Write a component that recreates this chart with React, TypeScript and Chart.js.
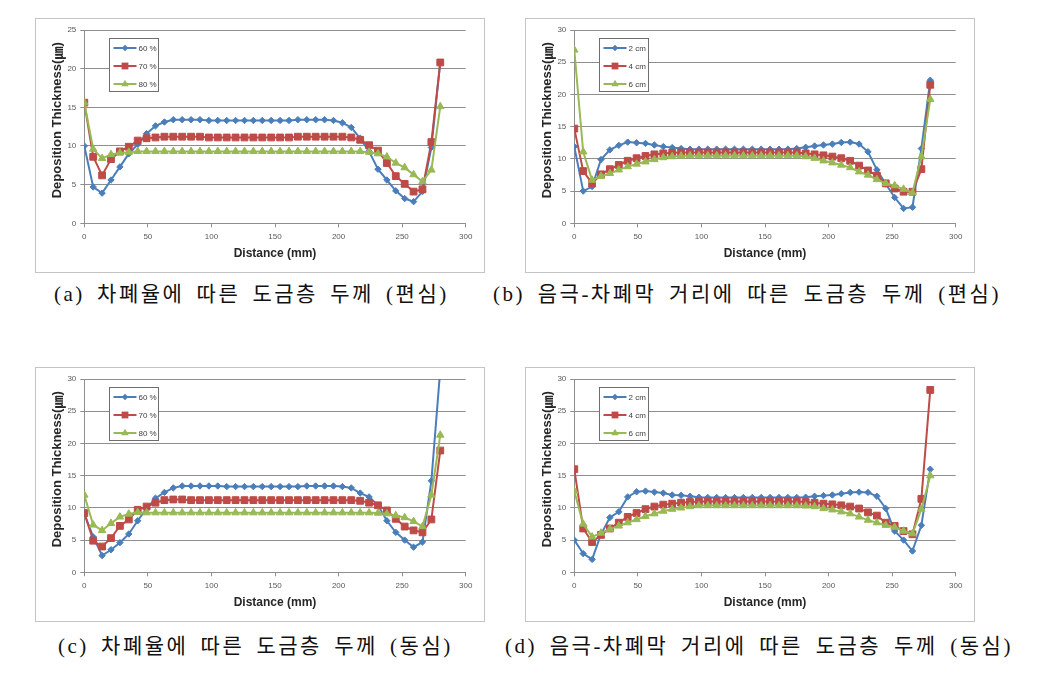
import React, { useEffect, useRef } from 'react';
import { Chart, registerables } from 'chart.js';

Chart.register(...registerables);

// ---------------- data ----------------
const distanceMm = [
  0, 7, 14, 21, 28, 35, 42, 49, 56, 63,
  70, 77, 84, 91, 98, 105, 112, 119, 126, 133,
  140, 147, 154, 161, 168, 175, 182, 189, 196, 203,
  210, 217, 224, 231, 238, 245, 252, 259, 266, 273, 280,
];

const xTickValues = [0, 50, 100, 150, 200, 250, 300];

const ratioLabels = ['60 %', '70 %', '80 %'];
const gapLabels = ['2 cm', '4 cm', '6 cm'];

// (a) shielding ratio, eccentric
const a60 = [
  10.0, 4.7, 3.9, 5.6, 7.3, 9.0, 10.2, 11.6, 12.6, 13.1,
  13.4, 13.4, 13.4, 13.4, 13.3, 13.3, 13.3, 13.3, 13.3, 13.3,
  13.3, 13.3, 13.3, 13.3, 13.4, 13.4, 13.4, 13.4, 13.3, 13.0,
  12.4, 11.0, 9.3, 7.0, 5.6, 4.2, 3.2, 2.8, 4.1, 9.8, 20.8,
];
const a70 = [
  15.6, 8.6, 6.2, 8.3, 9.3, 9.9, 10.7, 11.0, 11.1, 11.2,
  11.2, 11.2, 11.2, 11.2, 11.1, 11.1, 11.1, 11.1, 11.1, 11.1,
  11.1, 11.1, 11.1, 11.1, 11.2, 11.2, 11.2, 11.2, 11.2, 11.2,
  11.1, 10.8, 10.1, 9.4, 7.8, 6.1, 5.1, 4.1, 4.4, 10.5, 20.8,
];
const a80 = [
  15.6, 9.6, 8.4, 8.9, 9.1, 9.2, 9.3, 9.3, 9.3, 9.3,
  9.3, 9.3, 9.3, 9.3, 9.3, 9.3, 9.3, 9.3, 9.3, 9.3,
  9.3, 9.3, 9.3, 9.3, 9.3, 9.3, 9.3, 9.3, 9.3, 9.3,
  9.3, 9.3, 9.2, 9.0, 8.6, 7.8, 7.2, 6.3, 5.4, 6.9, 15.1,
];

// (b) cathode-shield distance, eccentric
const b2 = [
  11.9, 5.0, 5.7, 9.9, 11.4, 12.1, 12.6, 12.5, 12.4, 12.15,
  11.9, 11.75, 11.6, 11.5, 11.5, 11.5, 11.5, 11.5, 11.5, 11.5,
  11.5, 11.5, 11.5, 11.5, 11.5, 11.6, 11.8, 12.0, 12.15, 12.3,
  12.55, 12.6, 12.3, 11.1, 8.3, 6.1, 4.0, 2.3, 2.5, 11.6, 22.2,
];
const b4 = [
  14.7, 8.1, 6.2, 7.6, 8.4, 9.05, 9.7, 10.1, 10.45, 10.7,
  10.85, 10.95, 11.0, 11.0, 11.0, 11.0, 11.0, 11.0, 11.0, 11.0,
  11.0, 11.0, 11.0, 11.0, 11.0, 11.0, 10.85, 10.7, 10.55, 10.35,
  10.1, 9.7, 8.95, 8.2, 7.4, 6.2, 5.4, 4.9, 4.9, 8.4, 21.5,
];
const b6 = [
  26.9, 11.1, 6.7, 7.3, 7.75, 8.3, 8.8, 9.2, 9.55, 9.9,
  10.2, 10.35, 10.45, 10.5, 10.5, 10.5, 10.5, 10.5, 10.5, 10.5,
  10.5, 10.5, 10.5, 10.5, 10.5, 10.5, 10.35, 10.1, 9.7, 9.4,
  9.05, 8.65, 8.0, 7.5, 6.8, 6.2, 5.85, 5.3, 4.75, 10.35, 19.25,
];

// (c) shielding ratio, concentric
const c60 = [
  9.1, 5.5, 2.6, 3.5, 4.6, 5.95, 8.0, 9.9, 11.5, 12.4,
  13.1, 13.4, 13.4, 13.4, 13.4, 13.4, 13.3, 13.3, 13.3, 13.3,
  13.3, 13.3, 13.3, 13.3, 13.3, 13.4, 13.4, 13.4, 13.4, 13.3,
  13.1, 12.3, 11.7, 10.4, 8.0, 6.2, 5.0, 3.9, 4.7, 14.2, 31.5,
];
const c70 = [
  9.2, 4.9, 4.0, 5.3, 7.2, 8.2, 9.7, 10.2, 10.8, 11.2,
  11.3, 11.3, 11.2, 11.2, 11.2, 11.2, 11.2, 11.2, 11.2, 11.2,
  11.2, 11.2, 11.2, 11.2, 11.2, 11.2, 11.2, 11.2, 11.2, 11.2,
  11.2, 11.1, 10.8, 10.4, 9.6, 8.3, 7.1, 6.5, 6.2, 8.2, 18.9,
];
const c80 = [
  12.0, 7.35, 6.5, 7.6, 8.6, 9.05, 9.3, 9.25, 9.25, 9.25,
  9.25, 9.25, 9.25, 9.25, 9.25, 9.25, 9.25, 9.25, 9.25, 9.25,
  9.25, 9.25, 9.25, 9.25, 9.25, 9.25, 9.25, 9.25, 9.25, 9.25,
  9.25, 9.25, 9.25, 9.2, 9.1, 8.8, 8.5, 7.9, 7.1, 12.0, 21.3,
];

// (d) cathode-shield distance, concentric
const d2 = [
  5.0, 2.9, 2.0, 5.9, 8.5, 9.4, 11.7, 12.5, 12.6, 12.45,
  12.3, 12.0, 11.95, 11.8, 11.65, 11.6, 11.6, 11.6, 11.6, 11.6,
  11.6, 11.6, 11.6, 11.6, 11.6, 11.6, 11.65, 11.8, 11.9, 12.0,
  12.2, 12.4, 12.45, 12.4, 11.8, 9.9, 6.4, 5.0, 3.3, 7.3, 16.0,
];
const d4 = [
  16.0, 6.8, 4.7, 5.8, 6.8, 7.7, 8.6, 9.2, 9.8, 10.2,
  10.5, 10.65, 10.8, 10.9, 11.0, 11.0, 11.0, 11.0, 11.0, 11.0,
  11.0, 11.0, 11.0, 11.0, 11.0, 11.0, 10.9, 10.8, 10.65, 10.55,
  10.4, 10.2, 9.9, 9.3, 8.8, 7.7, 7.2, 6.4, 5.9, 11.4, 28.3,
];
const d6 = [
  12.6, 7.5, 5.5, 6.1, 6.7, 7.2, 7.7, 8.2, 8.7, 9.1,
  9.5, 9.8, 10.0, 10.2, 10.35, 10.35, 10.35, 10.35, 10.35, 10.35,
  10.35, 10.35, 10.35, 10.35, 10.35, 10.35, 10.3, 10.2, 9.9, 9.7,
  9.4, 9.1, 8.6, 8.1, 7.7, 7.3, 7.0, 6.4, 6.0, 9.8, 15.0,
];

const captionA = '(a) 차폐율에 따른 도금층 두께 (편심)';
const captionB = '(b) 음극-차폐막 거리에 따른 도금층 두께 (편심)';
const captionC = '(c) 차폐율에 따른 도금층 두께 (동심)';
const captionD = '(d) 음극-차폐막 거리에 따른 도금층 두께 (동심)';

const xTitle = 'Distance (mm)';
const yTitleParts = ['Deposition Thickness(', '㎛', ')'];

// ---------------- styles ----------------
const seriesColors = ['#4A7EBB', '#BE4B48', '#98B954'];
const seriesMarkers = ['rectRot', 'rect', 'triangle'];
const markerRadius = [3.2, 4.8, 4.3];
const gridColor = '#8e8e8e';
const tickColor = '#595959';
const titleColor = '#262626';
const sansFont = '"Liberation Sans", "Noto Sans CJK KR", sans-serif';
const cjkFont = '"Noto Sans CJK KR", "Liberation Sans", sans-serif';

const CANVAS_W = 448;
const CANVAS_H = 253;

function drawMarker(ctx: CanvasRenderingContext2D, style: string, r: number, x: number, y: number) {
  ctx.beginPath();
  if (style === 'rectRot') {
    ctx.moveTo(x, y - r);
    ctx.lineTo(x + r, y);
    ctx.lineTo(x, y + r);
    ctx.lineTo(x - r, y);
    ctx.closePath();
  } else if (style === 'rect') {
    const s = r * Math.SQRT1_2;
    ctx.rect(x - s, y - s, 2 * s, 2 * s);
  } else {
    const h = r * 1.5;
    ctx.moveTo(x, y - r);
    ctx.lineTo(x + h / Math.sqrt(3), y + r / 2);
    ctx.lineTo(x - h / Math.sqrt(3), y + r / 2);
    ctx.closePath();
  }
  ctx.fill();
}

const insideLegend = {
  id: 'insideLegend',
  afterDatasetsDraw(chart: any, _args: any, opts: any) {
    const { ctx, chartArea } = chart;
    const x0 = Math.round(chartArea.left + opts.dx) + 0.5;
    const y0 = Math.round(chartArea.top + opts.dy) + 0.5;
    ctx.save();
    ctx.fillStyle = '#ffffff';
    ctx.fillRect(x0, y0, opts.w, opts.h);
    ctx.strokeStyle = '#6e6e6e';
    ctx.lineWidth = 1;
    ctx.strokeRect(x0, y0, opts.w, opts.h);
    chart.data.datasets.forEach((ds: any, i: number) => {
      const cy = y0 + 9.5 + i * 18;
      ctx.strokeStyle = ds.borderColor;
      ctx.lineWidth = 2;
      ctx.beginPath();
      ctx.moveTo(x0 + 4, cy);
      ctx.lineTo(x0 + 27, cy);
      ctx.stroke();
      ctx.fillStyle = ds.backgroundColor;
      drawMarker(ctx, ds.pointStyle, ds.pointRadius, x0 + 15.5, cy);
      ctx.fillStyle = '#404040';
      ctx.font = `8px ${sansFont}`;
      ctx.textBaseline = 'middle';
      ctx.textAlign = 'left';
      ctx.fillText(ds.label, x0 + 29, cy + 0.5);
    });
    ctx.restore();
  },
};

// vertical axis title, drawn bottom-up from a fixed starting point
const yAxisTitle = {
  id: 'yAxisTitle',
  afterDraw(chart: any, _args: any, opts: any) {
    const { ctx, chartArea } = chart;
    ctx.save();
    ctx.translate(opts.x, chartArea.bottom - opts.bottomInset);
    ctx.rotate(-Math.PI / 2);
    ctx.fillStyle = titleColor;
    ctx.textBaseline = 'middle';
    ctx.textAlign = 'left';
    let pos = 0;
    yTitleParts.forEach((part, i) => {
      ctx.font = `bold 13px ${i === 1 ? cjkFont : sansFont}`;
      ctx.fillText(part, pos, 0);
      pos += ctx.measureText(part).width;
    });
    ctx.restore();
  },
};

type PanelProps = {
  left: number;
  top: number;
  labels: string[];
  series: number[][];
  yMax: number;
};

function Panel({ left, top, labels, series, yMax }: PanelProps) {
  const ref = useRef<HTMLCanvasElement | null>(null);
  useEffect(() => {
    if (!ref.current) return;
    const datasets = series.map((vals, i) => ({
      label: labels[i],
      data: vals.map((v, k) => ({ x: distanceMm[k], y: v })),
      borderColor: seriesColors[i],
      backgroundColor: seriesColors[i],
      borderWidth: 2,
      pointStyle: seriesMarkers[i],
      pointRadius: markerRadius[i],
      pointBorderWidth: 1,
      pointHoverRadius: markerRadius[i],
      tension: 0,
      order: 3 - i,
    }));
    const chart = new Chart(ref.current, {
      type: 'line',
      data: { datasets },
      options: {
        animation: false,
        responsive: false,
        maintainAspectRatio: false,
        events: [],
        layout: { padding: { left: 0, right: 18.3, top: 11, bottom: 0 } },
        plugins: {
          legend: { display: false },
          tooltip: { enabled: false },
          insideLegend: { dx: 25, dy: 7.5, w: 49, h: 53 },
          yAxisTitle: { x: 21, bottomInset: 25 },
        } as any,
        scales: {
          x: {
            type: 'linear',
            min: 0,
            max: 300,
            afterFit: (s: any) => { s.height = 48.7; },
            afterBuildTicks: (s: any) => { s.ticks = xTickValues.map((v) => ({ value: v })); },
            ticks: {
              font: { size: 8, family: sansFont },
              color: tickColor,
              padding: 5,
              maxRotation: 0,
            },
            grid: { drawOnChartArea: false, drawTicks: true, tickLength: 4, color: gridColor },
            border: { display: true, color: gridColor },
            title: {
              display: true,
              text: xTitle,
              color: titleColor,
              font: { size: 12, weight: 'bold', family: sansFont },
              padding: { top: 0, bottom: 11.3 },
            },
          },
          y: {
            type: 'linear',
            min: 0,
            max: yMax,
            afterFit: (s: any) => { s.width = 48.3; },
            ticks: {
              stepSize: 5,
              font: { size: 8, family: sansFont },
              color: tickColor,
              padding: 4,
            },
            grid: { color: gridColor, drawTicks: true, tickLength: 4 },
            border: { display: true, color: gridColor },
            title: { display: false },
          },
        },
      } as any,
      plugins: [insideLegend as any, yAxisTitle as any],
    });
    return () => chart.destroy();
  }, [labels, series, yMax]);

  return (
    <div
      style={{
        position: 'absolute',
        left,
        top,
        width: CANVAS_W + 2,
        height: CANVAS_H + 2,
        boxSizing: 'border-box',
        border: '1px solid #c4c4c4',
        background: '#fff',
      }}
    >
      <canvas
        ref={ref}
        width={CANVAS_W}
        height={CANVAS_H}
        style={{ display: 'block', width: CANVAS_W, height: CANVAS_H }}
      />
    </div>
  );
}

function Caption({ text, left, top, wordSpacing }: { text: string; left: number; top: number; wordSpacing: number }) {
  return (
    <div
      style={{
        position: 'absolute',
        left,
        top,
        whiteSpace: 'nowrap',
        fontFamily: '"Liberation Serif", "Noto Sans CJK KR", serif',
        fontSize: 21,
        lineHeight: '21px',
        letterSpacing: 2.5,
        wordSpacing,
        color: '#111',
      }}
    >
      {text}
    </div>
  );
}

const seriesA = [a60, a70, a80];
const seriesB = [b2, b4, b6];
const seriesC = [c60, c70, c80];
const seriesD = [d2, d4, d6];

export default function App() {
  return (
    <div
      style={{
        position: 'absolute',
        left: 0,
        top: 0,
        width: 1046,
        height: 691,
        background: '#ffffff',
        overflow: 'hidden',
      }}
    >
      <Panel left={35} top={18} labels={ratioLabels} series={seriesA} yMax={25} />
      <Panel left={525} top={18} labels={gapLabels} series={seriesB} yMax={30} />
      <Panel left={35} top={367} labels={ratioLabels} series={seriesC} yMax={30} />
      <Panel left={525} top={367} labels={gapLabels} series={seriesD} yMax={30} />
      <Caption text={captionA} left={54} top={284} wordSpacing={4.5} />
      <Caption text={captionB} left={493} top={284} wordSpacing={5} />
      <Caption text={captionC} left={58} top={636} wordSpacing={4.5} />
      <Caption text={captionD} left={505} top={636} wordSpacing={5} />
    </div>
  );
}
